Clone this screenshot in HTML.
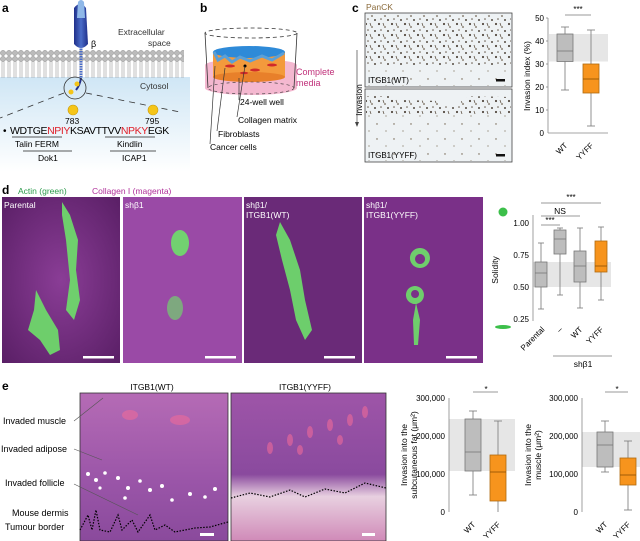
<!DOCTYPE html>
<html><head><meta charset="utf-8"><style>
html,body{margin:0;padding:0;background:#fff}
svg{display:block;font-family:"Liberation Sans",sans-serif}
</style></head><body>
<svg width="640" height="541" viewBox="0 0 640 541" xmlns="http://www.w3.org/2000/svg">
<defs>
<linearGradient id="cyto" x1="0" y1="0" x2="0" y2="1"><stop offset="0" stop-color="#cfe6f5"/><stop offset="1" stop-color="#ffffff"/></linearGradient>
<linearGradient id="rec" x1="0" y1="0" x2="1" y2="0"><stop offset="0" stop-color="#1f2f8a"/><stop offset="0.5" stop-color="#4a6cc8"/><stop offset="1" stop-color="#1f2f8a"/></linearGradient>
<pattern id="mem" width="6" height="28" patternUnits="userSpaceOnUse"><circle cx="3" cy="3" r="2.6" fill="#bbb" stroke="#888" stroke-width="0.5"/><circle cx="3" cy="25" r="2.6" fill="#bbb" stroke="#888" stroke-width="0.5"/><line x1="2" y1="6" x2="2" y2="22" stroke="#999" stroke-width="0.6"/><line x1="4" y1="6" x2="4" y2="22" stroke="#999" stroke-width="0.6"/></pattern>
<pattern id="dots" width="13" height="11" patternUnits="userSpaceOnUse"><circle cx="2" cy="2" r="1.1" fill="#3a2e22"/><circle cx="8" cy="5" r="0.9" fill="#5a4a35"/><circle cx="4" cy="8" r="0.8" fill="#4a3a2a"/><circle cx="11" cy="9" r="1" fill="#3a2e22"/><line x1="6" y1="1" x2="7" y2="4" stroke="#4a3a2a" stroke-width="0.8"/></pattern>
<pattern id="dots2" width="17" height="15" patternUnits="userSpaceOnUse"><circle cx="3" cy="4" r="0.7" fill="#6a5a45"/><circle cx="12" cy="11" r="0.6" fill="#7a6a55"/></pattern>
<radialGradient id="mag" cx="0.5" cy="0.5" r="0.7"><stop offset="0" stop-color="#8a3d96"/><stop offset="1" stop-color="#5a1f66"/></radialGradient>
<linearGradient id="he1" x1="0" y1="0" x2="0" y2="1"><stop offset="0" stop-color="#b56bb5"/><stop offset="0.6" stop-color="#9a55a8"/><stop offset="1" stop-color="#8a4a9c"/></linearGradient>
<linearGradient id="he2" x1="0" y1="0" x2="0" y2="1"><stop offset="0" stop-color="#9e55a8"/><stop offset="0.55" stop-color="#8a4a9e"/><stop offset="0.7" stop-color="#e8d0e0"/><stop offset="1" stop-color="#d08ab8"/></linearGradient>
</defs>

<!-- Panel a -->
<text x="2" y="12" font-size="12" font-weight="bold">a</text>
<rect x="0" y="77" width="190" height="95" fill="url(#cyto)"/>
<rect x="0" y="50" width="184" height="28" fill="url(#mem)"/>
<path d="M74 8 Q80 0 86 8 L88 44 Q81 52 74 44 Z" fill="url(#rec)"/>
<path d="M78 2 Q81 -2 84 2 L85 18 L77 18 Z" fill="#8fb8e8"/>
<path d="M81 46 L81 78" stroke="#4a6cc8" stroke-width="3" stroke-dasharray="1.5 1"/>
<path d="M81 78 Q80 85 76 90" stroke="#22308a" stroke-width="2" fill="none"/>
<text x="91" y="47" font-size="9">β</text>
<text x="118" y="35" font-size="8.5" fill="#333">Extracellular</text>
<text x="148" y="46" font-size="8.5" fill="#333">space</text>
<text x="140" y="89" font-size="8.5" fill="#333">Cytosol</text>
<circle cx="75" cy="88" r="11" fill="none" stroke="#333" stroke-width="0.8"/>
<circle cx="77" cy="84" r="2.5" fill="#f5c518"/><circle cx="71" cy="92" r="2.5" fill="#f5c518"/>
<line x1="64" y1="93" x2="0" y2="118" stroke="#333" stroke-width="0.8" stroke-dasharray="6 5"/>
<line x1="86" y1="93" x2="180" y2="112" stroke="#333" stroke-width="0.8" stroke-dasharray="6 5"/>
<circle cx="73" cy="110" r="5" fill="#f5c518" stroke="#c89a10" stroke-width="0.6"/>
<circle cx="153" cy="110" r="5" fill="#f5c518" stroke="#c89a10" stroke-width="0.6"/>
<text x="65" y="124" font-size="8.5">783</text>
<text x="145" y="124" font-size="8.5">795</text>
<text x="3" y="134" font-size="10">•</text>
<text x="10" y="134" font-size="10.5" letter-spacing="-0.4">WDTGE<tspan fill="#e0202a">NPIY</tspan>KSAVTTVV<tspan fill="#e0202a">NPKY</tspan>EGK</text>
<line x1="12" y1="137" x2="62" y2="137" stroke="#222" stroke-width="0.8"/>
<line x1="105" y1="137" x2="155" y2="137" stroke="#222" stroke-width="0.8"/>
<text x="15" y="147" font-size="8.5">Talin FERM</text>
<text x="117" y="147" font-size="8.5">Kindlin</text>
<line x1="23" y1="151" x2="72" y2="151" stroke="#222" stroke-width="0.8"/>
<line x1="110" y1="151" x2="156" y2="151" stroke="#222" stroke-width="0.8"/>
<text x="38" y="161" font-size="8.5">Dok1</text>
<text x="122" y="161" font-size="8.5">ICAP1</text>

<!-- Panel b -->
<text x="200" y="12" font-size="12" font-weight="bold">b</text>
<ellipse cx="251" cy="88" rx="46" ry="7" fill="#f4b8d0"/>
<rect x="205" y="65" width="92" height="23" fill="#f4b8d0"/>
<ellipse cx="251" cy="65" rx="46" ry="6" fill="#f4b8d0"/>
<rect x="213" y="52" width="72" height="25" fill="#f39a3c"/>
<ellipse cx="249" cy="77" rx="36" ry="5" fill="#e8802a"/>
<ellipse cx="249" cy="52" rx="36" ry="6" fill="#2e8ad8"/>
<path d="M214 52 L218 60 L225 56 L232 62 L240 57 L250 61 L262 56 L272 60 L284 53" stroke="#5aa0d8" stroke-width="3" fill="none"/>
<ellipse cx="230" cy="66" rx="5" ry="1.5" fill="#d02a2a"/><ellipse cx="255" cy="70" rx="5" ry="1.5" fill="#d02a2a"/><ellipse cx="272" cy="65" rx="5" ry="1.5" fill="#d02a2a"/><ellipse cx="244" cy="73" rx="4" ry="1.3" fill="#d02a2a"/>
<ellipse cx="251" cy="33" rx="46" ry="5" fill="none" stroke="#333" stroke-width="0.8" stroke-dasharray="4 3"/>
<path d="M205 33 L208 88 M297 33 L294 88" stroke="#333" stroke-width="0.8"/>
<ellipse cx="251" cy="88" rx="43" ry="6" fill="none" stroke="#333" stroke-width="0.6" stroke-dasharray="3 3"/>
<text x="296" y="75" font-size="9" fill="#c0307a">Complete</text>
<text x="296" y="86" font-size="9" fill="#c0307a">media</text>
<line x1="239" y1="78" x2="239" y2="100" stroke="#333" stroke-width="0.7"/>
<circle cx="245" cy="66" r="1.5" fill="#000"/>
<line x1="245" y1="66" x2="237" y2="117" stroke="#333" stroke-width="0.7"/>
<line x1="225" y1="68" x2="217" y2="131" stroke="#333" stroke-width="0.7"/>
<line x1="215" y1="66" x2="210" y2="144" stroke="#333" stroke-width="0.7"/>
<text x="240" y="105" font-size="8.5">24-well well</text>
<text x="238" y="123" font-size="8.5">Collagen matrix</text>
<text x="218" y="137" font-size="8.5">Fibroblasts</text>
<text x="210" y="150" font-size="8.5">Cancer cells</text>

<!-- Panel c -->
<text x="352" y="12" font-size="12" font-weight="bold">c</text>
<text x="366" y="10" font-size="8.5" fill="#8a6a3a">PanCK</text>
<rect x="365" y="13" width="147" height="74" fill="#eef2f4" stroke="#444" stroke-width="0.8"/>
<rect x="366" y="15" width="145" height="50" fill="url(#dots)" opacity="0.85"/>
<rect x="366" y="65" width="145" height="21" fill="url(#dots2)"/>
<text x="368" y="83" font-size="8">ITGB1(WT)</text>
<rect x="496" y="79" width="9" height="2.5" fill="#111"/>
<rect x="365" y="89" width="147" height="73" fill="#eef2f4" stroke="#444" stroke-width="0.8"/>
<path d="M366 96 L390 96 L400 100 L440 101 L450 108 L470 96 L511 97 L511 114 L366 114 Z" fill="url(#dots)" opacity="0.85"/>
<rect x="366" y="114" width="145" height="47" fill="url(#dots2)"/>
<text x="368" y="158" font-size="8">ITGB1(YYFF)</text>
<rect x="496" y="154" width="9" height="2.5" fill="#111"/>
<text transform="translate(362,100) rotate(-90)" font-size="8.5" text-anchor="middle">Invasion</text>
<line x1="357" y1="50" x2="357" y2="125" stroke="#444" stroke-width="0.7"/>
<path d="M355 122 L357 127 L359 122 Z" fill="#444"/>
<!-- chart c -->
<rect x="549" y="34" width="59" height="27.5" fill="#e6e6e6"/>
<line x1="548" y1="18" x2="548" y2="133" stroke="#888" stroke-width="0.8"/>
<line x1="548" y1="133" x2="608" y2="133" stroke="#888" stroke-width="0.8"/>
<g font-size="8" text-anchor="end">
<text x="544" y="21">50</text><text x="544" y="44">40</text><text x="544" y="67">30</text><text x="544" y="90">20</text><text x="544" y="113">10</text><text x="544" y="136">0</text></g>
<g stroke="#888" stroke-width="0.8"><line x1="546" y1="18" x2="548" y2="18"/><line x1="546" y1="41" x2="548" y2="41"/><line x1="546" y1="64" x2="548" y2="64"/><line x1="546" y1="87" x2="548" y2="87"/><line x1="546" y1="110" x2="548" y2="110"/></g>
<text transform="translate(530,76) rotate(-90)" font-size="8.5" text-anchor="middle">Invasion index (%)</text>
<g stroke="#777" stroke-width="0.8">
<line x1="565" y1="27" x2="565" y2="90"/><line x1="561" y1="27" x2="569" y2="27"/><line x1="561" y1="90" x2="569" y2="90"/>
<rect x="557" y="34" width="16" height="27.5" fill="#bdbdbd"/><line x1="557" y1="51" x2="573" y2="51"/>
<line x1="591" y1="30" x2="591" y2="126"/><line x1="587" y1="30" x2="595" y2="30"/><line x1="587" y1="126" x2="595" y2="126"/>
<rect x="583" y="64" width="16" height="29" fill="#f7941d" stroke="#b06a10"/><line x1="583" y1="79" x2="599" y2="79" stroke="#8a5000"/>
<line x1="565" y1="15" x2="591" y2="15"/></g>
<text x="578" y="12" font-size="8" text-anchor="middle">***</text>
<text transform="translate(568,146) rotate(-45)" font-size="8" text-anchor="end">WT</text>
<text transform="translate(594,146) rotate(-45)" font-size="8" text-anchor="end">YYFF</text>

<!-- Panel d -->
<text x="2" y="194" font-size="12" font-weight="bold">d</text>
<text x="18" y="194" font-size="8.5" fill="#2a9a4a">Actin (green)</text>
<text x="92" y="194" font-size="8.5" fill="#b0309a">Collagen I (magenta)</text>
<rect x="2" y="197" width="118" height="166" fill="url(#mag)"/>
<rect x="123" y="197" width="119" height="166" fill="#9a4aa6"/>
<rect x="244" y="197" width="118" height="166" fill="#6a2a78"/>
<rect x="364" y="197" width="119" height="166" fill="#7a3088"/>
<g fill="#6ee06a" opacity="0.9">
<path d="M62 202 L70 215 L78 240 L76 270 L80 300 L74 320 L66 310 L70 280 L66 240 L62 215 Z"/>
<path d="M36 290 L46 310 L58 330 L60 350 L50 355 L40 340 L28 330 L34 310 Z"/>
<ellipse cx="180" cy="243" rx="9" ry="13"/><ellipse cx="175" cy="308" rx="8" ry="12" opacity="0.7"/>
<path d="M280 222 L290 240 L300 270 L305 300 L312 330 L305 340 L296 320 L290 290 L282 260 L276 235 Z"/>
<path d="M420 248 A10 10 0 1 1 419.9 248 Z M420 254 A5 5 0 1 0 420.1 254 Z" fill-rule="evenodd"/>
<path d="M415 286 A9 9 0 1 1 414.9 286 Z M415 290 A4 4 0 1 0 415.1 290 Z" fill-rule="evenodd"/>
<path d="M416 303 L420 320 L418 345 L414 345 L413 320 Z"/>
</g>
<text x="4" y="208" font-size="8.5" fill="#fff">Parental</text>
<text x="125" y="208" font-size="8.5" fill="#fff">shβ1</text>
<text x="246" y="208" font-size="8.5" fill="#fff">shβ1/</text><text x="246" y="218" font-size="8.5" fill="#fff">ITGB1(WT)</text>
<text x="366" y="208" font-size="8.5" fill="#fff">shβ1/</text><text x="366" y="218" font-size="8.5" fill="#fff">ITGB1(YYFF)</text>
<g fill="#fff"><rect x="83" y="356" width="31" height="2.5"/><rect x="205" y="356" width="31" height="2.5"/><rect x="324" y="356" width="31" height="2.5"/><rect x="446" y="356" width="31" height="2.5"/></g>
<!-- chart d -->
<circle cx="503" cy="212" r="4.5" fill="#3cbf4a"/>
<ellipse cx="503" cy="327" rx="8" ry="2" fill="#3cbf4a"/>
<rect x="533" y="262" width="78" height="25" fill="#e6e6e6"/>
<line x1="533" y1="215" x2="533" y2="321" stroke="#888" stroke-width="0.8"/>
<g font-size="8" text-anchor="end"><text x="529" y="226">1.00</text><text x="529" y="258">0.75</text><text x="529" y="290">0.50</text><text x="529" y="322">0.25</text></g>
<text transform="translate(498,270) rotate(-90)" font-size="8.5" text-anchor="middle">Solidity</text>
<g stroke="#777" stroke-width="0.8">
<line x1="541" y1="243" x2="541" y2="309"/><line x1="538" y1="243" x2="544" y2="243"/><line x1="538" y1="309" x2="544" y2="309"/>
<rect x="535" y="262" width="12" height="25" fill="#bdbdbd"/><line x1="535" y1="273" x2="547" y2="273"/>
<line x1="560" y1="228" x2="560" y2="295"/><line x1="557" y1="228" x2="563" y2="228"/><line x1="557" y1="295" x2="563" y2="295"/>
<rect x="554" y="230" width="12" height="24" fill="#bdbdbd"/><line x1="554" y1="239" x2="566" y2="239"/>
<line x1="580" y1="228" x2="580" y2="308"/><line x1="577" y1="228" x2="583" y2="228"/><line x1="577" y1="308" x2="583" y2="308"/>
<rect x="574" y="251" width="12" height="31" fill="#bdbdbd"/><line x1="574" y1="266" x2="586" y2="266"/>
<line x1="601" y1="227" x2="601" y2="300"/><line x1="598" y1="227" x2="604" y2="227"/><line x1="598" y1="300" x2="604" y2="300"/>
<rect x="595" y="241" width="12" height="31" fill="#f7941d" stroke="#b06a10"/><line x1="595" y1="266" x2="607" y2="266" stroke="#8a5000"/>
<line x1="541" y1="203" x2="601" y2="203"/><line x1="541" y1="216" x2="580" y2="216"/><line x1="541" y1="225" x2="560" y2="225"/>
<line x1="553" y1="356" x2="612" y2="356"/></g>
<text x="571" y="200" font-size="8" text-anchor="middle">***</text>
<text x="560" y="214" font-size="8.5" text-anchor="middle">NS</text>
<text x="550" y="223" font-size="8" text-anchor="middle">***</text>
<g font-size="8" text-anchor="end">
<text transform="translate(545,330) rotate(-45)">Parental</text>
<text transform="translate(563,330) rotate(-45)">–</text>
<text transform="translate(583,330) rotate(-45)">WT</text>
<text transform="translate(604,330) rotate(-45)">YYFF</text></g>
<text x="583" y="367" font-size="8.5" text-anchor="middle">shβ1</text>

<!-- Panel e -->
<text x="2" y="390" font-size="12" font-weight="bold">e</text>
<text x="152" y="390" font-size="8.5" text-anchor="middle">ITGB1(WT)</text>
<text x="305" y="390" font-size="8.5" text-anchor="middle">ITGB1(YYFF)</text>
<rect x="80" y="393" width="148" height="148" fill="url(#he1)" stroke="#333" stroke-width="0.8"/>
<rect x="231" y="393" width="155" height="148" fill="url(#he2)" stroke="#333" stroke-width="0.8"/>
<g fill="#ee6a9a" opacity="0.6"><ellipse cx="290" cy="440" rx="3" ry="6"/><ellipse cx="310" cy="432" rx="3" ry="6"/><ellipse cx="330" cy="425" rx="3" ry="6"/><ellipse cx="350" cy="420" rx="3" ry="6"/><ellipse cx="270" cy="448" rx="3" ry="6"/><ellipse cx="300" cy="450" rx="3" ry="5"/><ellipse cx="340" cy="440" rx="3" ry="5"/><ellipse cx="365" cy="412" rx="3" ry="6"/><ellipse cx="130" cy="415" rx="8" ry="5"/><ellipse cx="180" cy="420" rx="10" ry="5"/></g>
<g fill="#fff"><circle cx="88" cy="474" r="2"/><circle cx="96" cy="480" r="2"/><circle cx="105" cy="473" r="1.8"/><circle cx="118" cy="478" r="2"/><circle cx="128" cy="488" r="2"/><circle cx="140" cy="481" r="1.8"/><circle cx="150" cy="490" r="2"/><circle cx="162" cy="486" r="2"/><circle cx="172" cy="500" r="1.8"/><circle cx="190" cy="494" r="2"/><circle cx="205" cy="497" r="1.8"/><circle cx="215" cy="489" r="2"/><circle cx="125" cy="498" r="1.8"/><circle cx="100" cy="488" r="1.6"/></g>
<path d="M80 530 L88 515 L92 530 L96 510 L100 530 L110 532 L118 515 L122 530 L132 520 L138 532 L150 515 L155 530 L165 525 L175 532 L195 528 L210 527 L228 522" stroke="#000" stroke-width="1.2" stroke-dasharray="1.5 1.5" fill="none"/>
<path d="M231 498 L250 493 L270 497 L290 490 L305 497 L325 489 L345 493 L365 483 L386 488" stroke="#000" stroke-width="1.2" stroke-dasharray="1.5 1.5" fill="none"/>
<g fill="#fff"><rect x="200" y="533" width="14" height="3"/><rect x="362" y="533" width="13" height="3"/></g>
<g font-size="9">
<text x="3" y="424">Invaded muscle</text>
<text x="1" y="452">Invaded adipose</text>
<text x="5" y="486">Invaded follicle</text>
<text x="12" y="516">Mouse dermis</text>
<text x="5" y="530">Tumour border</text></g>
<g stroke="#555" stroke-width="0.6"><line x1="74" y1="421" x2="103" y2="398"/><line x1="74" y1="449" x2="102" y2="460"/><line x1="74" y1="484" x2="138" y2="515"/></g>
<!-- chart e1 -->
<rect x="449" y="419" width="66" height="52" fill="#e6e6e6"/>
<line x1="449" y1="398" x2="449" y2="512" stroke="#888" stroke-width="0.8"/>
<g font-size="8" text-anchor="end"><text x="445" y="401">300,000</text><text x="445" y="439">200,000</text><text x="445" y="477">100,000</text><text x="445" y="515">0</text></g>
<text transform="translate(407,455) rotate(-90)" font-size="8.5" text-anchor="middle">Invasion into the</text>
<text transform="translate(417,455) rotate(-90)" font-size="8.5" text-anchor="middle">subcutaneous fat (μm²)</text>
<g stroke="#777" stroke-width="0.8">
<line x1="473" y1="411" x2="473" y2="495"/><line x1="469" y1="411" x2="477" y2="411"/><line x1="469" y1="495" x2="477" y2="495"/>
<rect x="465" y="419" width="16" height="52" fill="#bdbdbd"/><line x1="465" y1="452" x2="481" y2="452"/>
<line x1="498" y1="421" x2="498" y2="512"/><line x1="494" y1="421" x2="502" y2="421"/>
<rect x="490" y="455" width="16" height="46" fill="#f7941d" stroke="#b06a10"/><line x1="490" y1="472" x2="506" y2="472" stroke="#8a5000"/>
<line x1="473" y1="392" x2="498" y2="392"/></g>
<text x="486" y="392" font-size="8" text-anchor="middle">*</text>
<text transform="translate(476,525) rotate(-45)" font-size="8" text-anchor="end">WT</text>
<text transform="translate(501,525) rotate(-45)" font-size="8" text-anchor="end">YYFF</text>
<!-- chart e2 -->
<rect x="582" y="432" width="58" height="35" fill="#e6e6e6"/>
<line x1="582" y1="398" x2="582" y2="512" stroke="#888" stroke-width="0.8"/>
<g font-size="8" text-anchor="end"><text x="578" y="401">300,000</text><text x="578" y="439">200,000</text><text x="578" y="477">100,000</text><text x="578" y="515">0</text></g>
<text transform="translate(531,455) rotate(-90)" font-size="8.5" text-anchor="middle">Invasion into the</text>
<text transform="translate(541,455) rotate(-90)" font-size="8.5" text-anchor="middle">muscle (μm²)</text>
<g stroke="#777" stroke-width="0.8">
<line x1="605" y1="421" x2="605" y2="472"/><line x1="601" y1="421" x2="609" y2="421"/><line x1="601" y1="472" x2="609" y2="472"/>
<rect x="597" y="432" width="16" height="35" fill="#bdbdbd"/><line x1="597" y1="445" x2="613" y2="445"/>
<line x1="628" y1="441" x2="628" y2="510"/><line x1="624" y1="441" x2="632" y2="441"/><line x1="624" y1="510" x2="632" y2="510"/>
<rect x="620" y="458" width="16" height="27" fill="#f7941d" stroke="#b06a10"/><line x1="620" y1="475" x2="636" y2="475" stroke="#8a5000"/>
<line x1="605" y1="392" x2="628" y2="392"/></g>
<text x="617" y="392" font-size="8" text-anchor="middle">*</text>
<text transform="translate(608,525) rotate(-45)" font-size="8" text-anchor="end">WT</text>
<text transform="translate(631,525) rotate(-45)" font-size="8" text-anchor="end">YYFF</text>
</svg>
</body></html>
